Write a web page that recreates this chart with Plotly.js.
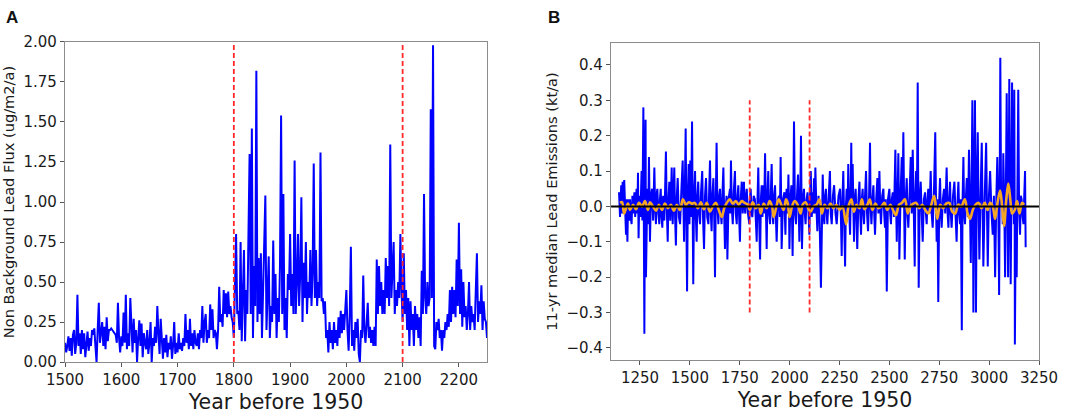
<!DOCTYPE html>
<html>
<head>
<meta charset="utf-8">
<script src="https://cdn.plot.ly/plotly-3.0.1.min.js"></script>
<style>html,body{margin:0;padding:0;background:#fff}#chart{width:1084px;height:419px}</style>
</head>
<body>
<div id="chart"></div>
<script>
// Panel A: non-background lead flux
const fluxYears = [1500,1502,1504,1506,1508,1510,1512,1514,1516,1518,1520,1522,1524,1526,1528,1530,1532,1534,1536,1538,1540,1542,1544,1546,1548,
1550,1552,1554,1556,1558,1560,1562,1564,1566,1568,1570,1572,1574,1576,1578,1580,1582,1584,1586,1588,1590,1592,1594,1596,1598,
1600,1602,1604,1606,1608,1610,1612,1614,1616,1618,1620,1622,1624,1626,1628,1630,1632,1634,1636,1638,1640,1642,1644,1646,1648,
1650,1652,1654,1656,1658,1660,1662,1664,1666,1668,1670,1672,1674,1676,1678,1680,1682,1684,1686,1688,1690,1692,1694,1696,1698,
1700,1702,1704,1706,1708,1710,1712,1714,1716,1718,1720,1722,1724,1726,1728,1730,1732,1734,1736,1738,1740,1742,1744,1746,1748,
1750,1752,1754,1756,1758,1760,1762,1764,1766,1768,1770,1772,1774,1776,1778,1780,1782,1784,1786,1788,1790,1792,1794,1796,1798,
1800,1802,1804,1806,1808,1810,1812,1814,1816,1818,1820,1822,1824,1826,1828,1830,1832,1834,1836,1838,1840,1842,1844,1846,1848,
1850,1852,1854,1856,1858,1860,1862,1864,1866,1868,1870,1872,1874,1876,1878,1880,1882,1884,1886,1888,1890,1892,1894,1896,1898,
1900,1902,1904,1906,1908,1910,1912,1914,1916,1918,1920,1922,1924,1926,1928,1930,1932,1934,1936,1938,1940,1942,1944,1946,1948,
1950,1952,1954,1956,1958,1960,1962,1964,1966,1968,1970,1972,1974,1976,1978,1980,1982,1984,1986,1988,1990,1992,1994,1996,1998,
2000,2002,2004,2006,2008,2010,2012,2014,2016,2018,2020,2022,2024,2026,2028,2030,2032,2034,2036,2038,2040,2042,2044,2046,2048,
2050,2052,2054,2056,2058,2060,2062,2064,2066,2068,2070,2072,2074,2076,2078,2080,2082,2084,2086,2088,2090,2092,2094,2096,2098,
2100,2102,2104,2106,2108,2110,2112,2114,2116,2118,2120,2122,2124,2126,2128,2130,2132,2134,2136,2138,2140,2142,2144,2146,2148,
2150,2152,2154,2156,2158,2160,2162,2164,2166,2168,2170,2172,2174,2176,2178,2180,2182,2184,2186,2188,2190,2192,2194,2196,2198,
2200,2202,2204,2206,2208,2210,2212,2214,2216,2218,2220,2222,2224,2226,2228,2230,2232,2234,2236,2238,2240,2242,2244,2246,2248,
2250];
const fluxValues = [0.12,0.06,0.1,0.16,0.07,0.15,0.04,0.17,0.2,0.05,0.12,0.42,0.1,0.18,0.05,0.2,0.08,0.18,0.03,0.14,0.19,0.07,0.15,0.1,0.2,
0.17,0.21,0.1,0.0,0.2,0.37,0.12,0.2,0.25,0.1,0.22,0.08,0.28,0.13,0.2,0.2,0.21,0.2,0.19,0.18,0.17,0.12,0.37,0.15,0.06,
0.16,0.1,0.31,0.12,0.42,0.08,0.18,0.1,0.4,0.15,0.06,0.27,0.12,0.2,0.0,0.15,0.26,0.1,0.24,0.03,0.18,0.12,0.08,0.2,0.05,
0.12,0.25,0.0,0.15,0.1,0.22,0.12,0.35,0.18,0.05,0.27,0.1,0.02,0.15,0.06,0.17,0.03,0.12,0.08,0.16,0.02,0.1,0.25,0.05,0.12,
0.06,0.18,0.08,0.12,0.07,0.15,0.1,0.3,0.12,0.2,0.08,0.27,0.1,0.18,0.08,0.2,0.12,0.1,0.18,0.08,0.2,0.15,0.35,0.12,0.25,
0.3,0.12,0.2,0.15,0.36,0.2,0.33,0.15,0.2,0.18,0.08,0.2,0.47,0.25,0.3,0.22,0.45,0.3,0.43,0.28,0.44,0.3,0.35,0.28,0.25,
0.15,0.45,0.8,0.3,0.32,0.2,0.75,0.13,0.35,0.7,0.13,0.45,0.3,0.73,1.3,0.3,1.46,0.15,0.6,0.35,1.82,0.25,0.65,0.3,0.68,
0.15,0.5,0.68,1.04,0.2,0.45,0.66,0.15,0.35,0.25,0.76,0.3,0.55,0.15,0.4,0.25,0.6,1.54,0.3,1.05,0.2,0.4,0.15,0.55,0.45,
0.8,0.35,0.55,0.3,1.26,0.3,0.5,0.8,0.35,0.55,1.03,0.25,0.62,0.4,0.75,0.3,0.5,0.4,0.7,0.35,0.55,1.24,0.4,0.7,0.35,
0.5,0.4,1.31,0.38,0.4,0.3,0.38,0.15,0.2,0.06,0.25,0.12,0.2,0.08,0.25,0.12,0.2,0.1,0.28,0.15,0.32,0.18,0.3,0.2,0.35,
0.45,0.2,0.07,0.3,0.72,0.1,0.2,0.07,0.25,0.15,0.27,0.05,0.0,0.2,0.15,0.54,0.2,0.12,0.25,0.37,0.15,0.22,0.12,0.2,0.1,
0.22,0.1,0.64,0.3,0.6,0.35,0.5,0.3,0.45,0.3,0.65,0.4,0.6,0.35,1.36,0.4,0.6,0.75,0.3,0.45,0.35,0.5,0.4,0.8,0.45,
0.25,0.68,0.3,0.45,0.2,0.4,0.1,0.38,0.2,0.3,0.1,0.35,0.2,0.3,0.15,0.28,0.1,0.57,0.3,1.05,0.4,0.3,0.5,0.35,0.4,
1.58,0.4,1.98,0.1,0.08,0.25,0.2,0.27,0.15,0.2,0.07,0.2,0.15,0.25,0.2,0.3,0.22,0.45,0.25,0.47,0.3,0.45,0.28,0.64,0.35,
0.87,0.3,0.58,0.22,0.5,0.28,0.35,0.2,0.3,0.5,0.2,0.35,0.25,0.3,0.2,0.45,0.68,0.25,0.38,0.3,0.48,0.2,0.38,0.27,0.25,
0.15];

// Panel B: 11-yr median lead emissions
const emisYears = [1145,1148,1150,1153,1156,1160,1163,1165,1166,1168,1171,1175,1180,1183,1187,1190,1192,1196,1200,1204,1208,1212,1216,1222,1226,1230,1233,1237,1240,1243,1247,1252,1258,1262,1267,1269,1272,1275,1278,1280,1284,1287,1291,1295,1298,1300,1305,1310,1316,1322,1326,1330,1333,1337,1342,1347,1350,1354,1358,1362,1366,1372,1376,1380,1384,1389,1393,1397,1402,1409,1412,1414,1418,1422,1426,1430,1434,1439,1445,1451,1457,1464,1468,1471,1475,1479,1482,1486,1490,1494,1498,1502,1506,1511,1514,1517,1521,1526,1530,1534,1538,1542,1546,1551,1556,1562,1566,1571,1576,1581,1587,1593,1597,1601,1605,1609,1613,1618,1622,1626,1630,1634,1638,1643,1647,1651,1655,1659,1663,1668,1672,1676,1680,1684,1686,1688,1694,1701,1703,1706,1710,1715,1720,1726,1730,1735,1739,1743,1747,1751,1755,1760,1765,1771,1774,1778,1781,1785,1791,1798,1801,1805,1809,1813,1820,1826,1830,1835,1839,1843,1847,1852,1856,1860,1864,1868,1872,1877,1881,1885,1889,1893,1897,1902,1906,1910,1914,1918,1922,1927,1931,1935,1941,1947,1951,1955,1958,1960,1967,1974,1976,1979,1982,1985,1990,1994,1997,1999,2004,2009,2012,2015,2018,2022,2027,2032,2037,2042,2046,2049,2053,2057,2060,2062,2067,2072,2076,2080,2085,2090,2095,2099,2102,2106,2111,2116,2119,2122,2126,2129,2134,2139,2145,2150,2157,2162,2166,2170,2174,2178,2182,2186,2189,2196,2202,2206,2211,2217,2223,2230,2236,2245,2253,2257,2261,2265,2269,2273,2278,2282,2286,2290,2294,2298,2303,2306,2309,2312,2316,2320,2323,2327,2331,2335,2339,2345,2350,2354,2358,2362,2366,2370,2373,2378,2383,2388,2393,2398,2403,2406,2410,2415,2420,2424,2428,2434,2440,2445,2450,2454,2458,2464,2470,2474,2478,2482,2487,2493,2500,2504,2508,2512,2517,2523,2530,2534,2537,2541,2545,2548,2550,2556,2562,2566,2570,2574,2577,2582,2587,2591,2595,2601,2607,2612,2617,2622,2627,2630,2634,2638,2642,2645,2647,2652,2657,2662,2667,2673,2679,2683,2687,2691,2695,2701,2707,2712,2717,2723,2730,2734,2737,2741,2745,2750,2754,2758,2762,2768,2774,2780,2787,2792,2796,2800,2804,2808,2812,2819,2826,2832,2837,2842,2846,2850,2854,2858,2863,2867,2871,2875,2879,2884,2888,2894,2899,2904,2908,2912,2916,2919,2921,2925,2929,2932,2934,2938,2943,2947,2951,2957,2963,2967,2971,2978,2985,2989,2993,2999,3005,3012,3018,3024,3030,3036,3041,3046,3050,3053,3056,3060,3065,3068,3071,3076,3080,3084,3088,3092,3095,3098,3101,3105,3108,3112,3115,3118,3121,3124,3126,3128,3129,3134,3138,3142,3146,3150,3155,3159,3163,3168,3172,3176,3180,3183];
const emisValues = [0.04,0.0,-0.03,0.02,0.06,-0.02,0.07,0.01,-0.02,0.03,0.075,-0.03,-0.08,0.02,-0.1,0.0,0.02,-0.04,0.02,-0.03,-0.05,0.03,-0.02,0.04,-0.03,0.02,0.05,-0.02,0.095,-0.09,0.03,-0.03,0.1,-0.04,0.28,0.0,-0.36,0.05,0.245,-0.2,0.02,0.05,-0.05,0.14,0.0,-0.1,0.03,0.05,-0.04,0.11,0.0,-0.05,0.03,0.05,-0.02,-0.05,0.02,0.05,-0.03,-0.06,0.03,-0.04,0.05,0.155,0.0,-0.1,0.02,0.07,-0.04,0.11,0.0,-0.05,0.04,0.11,-0.03,-0.11,0.02,0.08,-0.03,-0.05,0.04,0.13,0.0,-0.1,0.05,0.22,0.0,-0.24,0.03,0.12,-0.05,0.13,-0.03,0.24,0.0,-0.22,0.02,0.1,-0.03,-0.1,0.03,0.07,-0.02,-0.05,0.04,0.1,-0.03,-0.12,0.03,0.08,-0.03,-0.05,0.05,0.13,-0.02,-0.07,0.03,0.08,-0.03,-0.2,0.02,0.18,0.0,-0.05,0.03,0.05,-0.02,-0.05,0.03,0.11,-0.02,-0.12,0.0,0.03,-0.03,-0.15,0.02,0.05,-0.02,0.13,0.0,-0.05,0.04,0.1,-0.02,-0.05,0.03,0.06,-0.03,-0.1,0.02,0.07,-0.02,0.07,0.0,-0.02,0.03,0.05,-0.02,-0.05,0.02,0.05,-0.02,-0.03,0.03,0.02,-0.03,-0.1,0.02,0.11,-0.03,-0.15,0.02,0.06,-0.03,0.06,-0.02,0.15,0.0,-0.12,0.03,0.1,-0.02,-0.05,0.04,0.12,-0.02,-0.05,0.03,0.06,-0.03,-0.1,0.02,0.03,-0.03,0.14,0.0,-0.12,0.02,0.04,-0.02,-0.08,0.02,0.05,-0.02,0.09,0.0,-0.12,0.02,0.06,-0.03,-0.14,0.0,0.24,-0.02,-0.05,0.03,0.09,-0.02,-0.1,0.02,0.2,0.0,-0.12,0.02,0.05,-0.02,-0.05,0.02,0.04,-0.02,-0.08,0.02,0.1,-0.03,0.04,-0.02,0.08,-0.02,0.11,0.0,-0.07,0.03,-0.03,-0.23,0.02,0.09,-0.02,-0.05,0.03,0.05,-0.02,-0.05,0.03,0.1,-0.02,-0.05,0.03,0.06,-0.02,-0.05,0.03,0.05,-0.03,-0.14,0.02,0.1,-0.03,-0.17,0.0,0.05,-0.03,0.12,0.0,-0.08,0.02,0.18,0.0,0.12,-0.02,-0.1,0.02,0.05,-0.03,-0.12,0.02,0.07,-0.02,-0.08,0.02,0.05,-0.02,-0.05,0.03,0.1,-0.02,-0.07,0.02,0.18,0.0,-0.05,0.02,0.06,-0.02,-0.08,0.02,0.08,-0.02,0.1,0.0,-0.05,0.03,0.05,-0.02,-0.06,0.02,-0.24,0.02,0.05,-0.02,-0.05,0.02,0.04,-0.03,0.16,0.0,-0.1,0.02,0.15,0.0,-0.15,0.03,0.14,0.0,0.21,0.0,-0.15,0.02,0.08,-0.02,-0.06,0.03,0.14,-0.02,0.16,0.0,-0.17,0.02,0.1,0.0,0.35,0.0,-0.23,0.02,0.07,-0.02,-0.1,0.02,0.04,-0.02,-0.05,0.02,0.05,-0.02,0.1,-0.02,-0.06,0.03,0.21,0.0,-0.1,0.02,-0.27,0.02,0.08,-0.02,-0.06,0.02,0.05,-0.02,0.11,-0.02,-0.06,0.02,0.07,-0.02,-0.06,0.03,0.07,-0.03,-0.1,0.02,0.07,-0.02,-0.05,0.02,-0.35,0.02,0.14,-0.02,-0.05,0.03,0.08,-0.03,0.16,0.0,-0.16,0.05,0.3,0.0,-0.3,0.05,0.3,0.0,-0.3,0.05,0.21,0.0,-0.15,0.03,0.18,0.0,-0.17,0.03,0.18,0.0,-0.17,0.03,0.1,-0.02,-0.08,0.03,-0.2,0.02,0.14,0.0,-0.25,0.05,0.42,0.0,0.05,-0.05,0.15,0.0,-0.2,0.05,0.32,0.0,-0.2,0.05,0.36,0.0,-0.22,0.05,0.35,0.0,0.12,-0.05,0.33,0.0,-0.39,0.0,-0.2,0.05,0.33,0.0,-0.08,0.03,0.02,-0.03,-0.05,0.03,0.1,-0.115];

const smoothYears = [1150,1160,1170,1180,1190,1200,1215,1230,1245,1260,1275,1290,1300,1315,1330,1345,1360,1375,1390,1405,1420,1435,1450,1465,1480,1495,1510,1525,1540,1555,1570,1585,1600,1615,1630,1645,1660,1672,1685,1700,1715,1730,1745,1760,1775,1790,1800,1815,1830,1845,1855,1870,1885,1900,1912,1920,1932,1945,1958,1970,1982,1990,2000,2012,2025,2040,2055,2065,2080,2095,2105,2120,2135,2150,2162,2175,2190,2205,2220,2235,2250,2265,2283,2295,2310,2322,2335,2350,2362,2375,2390,2402,2415,2430,2445,2460,2475,2490,2505,2518,2533,2548,2562,2578,2592,2605,2620,2635,2650,2665,2680,2695,2710,2725,2740,2755,2770,2785,2800,2815,2830,2845,2860,2878,2892,2904,2918,2932,2948,2962,2978,2992,3005,3018,3030,3042,3055,3065,3075,3086,3096,3106,3115,3128,3140,3152,3165,3175];
const smoothValues = [0.01,0.012,-0.02,-0.005,0.008,-0.01,0.005,-0.008,0.01,0.0,0.015,-0.01,0.012,0.0,-0.012,0.005,-0.01,0.008,-0.005,0.005,-0.012,0.005,-0.01,0.02,0.005,0.012,0.008,0.01,-0.005,0.012,-0.008,0.01,-0.015,0.0,0.01,-0.01,-0.03,-0.005,0.01,0.02,0.008,0.015,0.005,0.015,0.01,0.005,-0.01,0.012,-0.005,0.005,-0.02,0.008,-0.005,0.015,0.0,-0.03,-0.005,0.02,0.005,-0.01,0.02,0.01,-0.03,0.0,0.015,0.005,-0.02,0.005,0.012,-0.008,-0.015,0.0,0.005,0.02,-0.02,0.005,-0.005,0.008,-0.005,0.005,-0.01,0.0,-0.05,0.0,0.02,-0.015,0.005,-0.005,0.02,-0.008,0.005,0.02,-0.01,0.008,-0.005,0.0,0.01,-0.01,0.005,-0.01,-0.025,0.005,0.01,0.02,-0.02,0.0,0.008,0.01,-0.005,0.005,-0.01,-0.02,0.005,0.03,-0.035,0.005,-0.005,0.008,0.01,-0.015,-0.02,0.005,0.0,0.02,-0.02,-0.035,-0.01,0.005,0.01,-0.005,0.01,-0.01,0.01,0.0,-0.035,0.01,0.045,0.0,-0.055,0.02,0.065,0.02,-0.02,-0.01,0.015,-0.02,0.01,0.005];

const markerYears = [1800, 2100];
const xTicksA = [1500,1600,1700,1800,1900,2000,2100,2200];
const yTicksA = [0,0.25,0.5,0.75,1.0,1.25,1.5,1.75,2.0];
const xTicksB = [1250,1500,1750,2000,2250,2500,2750,3000,3250];
const yTicksB = [-0.4,-0.3,-0.2,-0.1,0,0.1,0.2,0.3,0.4];

const FONT = 'DejaVu Sans, sans-serif';
const TXT = '#1a1a1a';

const traces = [
  {x: fluxYears, y: fluxValues, xaxis:'x', yaxis:'y', type:'scatter', mode:'lines',
   line:{color:'#0000ff', width:2}, hoverinfo:'skip', showlegend:false},
  {x: emisYears, y: emisValues, xaxis:'x2', yaxis:'y2', type:'scatter', mode:'lines',
   line:{color:'#0000ff', width:2}, hoverinfo:'skip', showlegend:false},
  {x: smoothYears, y: smoothValues, xaxis:'x2', yaxis:'y2', type:'scatter', mode:'lines',
   line:{color:'#f5a623', width:2.6, shape:'spline'}, hoverinfo:'skip', showlegend:false}
];

const shapes = [];
markerYears.forEach(yr => {
  shapes.push({type:'line', xref:'x', yref:'y domain', x0:yr, x1:yr, y0:0, y1:1,
    line:{color:'#ff2a2a', width:1.8, dash:'5px,3px'}, layer:'above'});
  shapes.push({type:'line', xref:'x2', yref:'y2', x0:yr, x1:yr, y0:-0.3, y1:0.3,
    line:{color:'#ff2a2a', width:1.8, dash:'5px,3px'}, layer:'above'});
});
shapes.push({type:'line', xref:'x2 domain', yref:'y2', x0:0, x1:1, y0:0, y1:0,
  line:{color:'#000000', width:2}, layer:'above'});

const axisCommon = {
  showgrid:false, zeroline:false, showline:true, mirror:true,
  linecolor:'#8c8c8c', linewidth:1.2, ticks:'outside', ticklen:4, tickwidth:1,
  tickcolor:'#555', tickfont:{family:FONT, size:15, color:TXT}, automargin:false
};

const notes = [
  {text:'<b>A</b>', xref:'paper', yref:'paper', x:0.004, y:0.985, xanchor:'left', yanchor:'top',
   showarrow:false, font:{family:'Liberation Sans, Arial, sans-serif', size:17, color:'#111'}},
  {text:'<b>B</b>', xref:'paper', yref:'paper', x:0.5035, y:0.985, xanchor:'left', yanchor:'top',
   showarrow:false, font:{family:'Liberation Sans, Arial, sans-serif', size:17, color:'#111'}}
];
if (fluxYears.length !== fluxValues.length || emisYears.length !== emisValues.length || smoothYears.length !== smoothValues.length) {
  notes.push({text:'LEN ' + fluxYears.length + '/' + fluxValues.length + ' ' + emisYears.length + '/' + emisValues.length + ' ' + smoothYears.length + '/' + smoothValues.length,
    xref:'paper', yref:'paper', x:0.5, y:0.99, showarrow:false, font:{size:12, color:'red'}});
}

const layout = {
  width:1084, height:419,
  margin:{l:0, r:0, t:0, b:0},
  paper_bgcolor:'#ffffff', plot_bgcolor:'#ffffff',
  font:{family:FONT, color:TXT},
  xaxis: Object.assign({}, axisCommon, {
    domain:[0.06, 0.4493], range:[1500,2250], tickvals:xTicksA, anchor:'y',
    title:{text:'Year before 1950', font:{family:FONT, size:20.5, color:TXT}, standoff:6}
  }),
  yaxis: Object.assign({}, axisCommon, {
    domain:[0.136, 0.8998], range:[0,2], tickvals:yTicksA, tickformat:'.2f', anchor:'x',
    title:{text:'Non Background Lead Flux (ug/m2/a)', font:{family:FONT, size:14.6, color:TXT}, standoff:5}
  }),
  xaxis2: Object.assign({}, axisCommon, {
    domain:[0.5637, 0.9585], range:[1105,3250], tickvals:xTicksB, anchor:'y2',
    title:{text:'Year before 1950', font:{family:FONT, size:20.5, color:TXT}, standoff:6}
  }),
  yaxis2: Object.assign({}, axisCommon, {
    domain:[0.1408, 0.8974], range:[-0.434,0.462], tickvals:yTicksB, tickformat:'.1f', anchor:'x2',
    title:{text:'11-yr median Lead Emissions (kt/a)', font:{family:FONT, size:14.6, color:TXT}, standoff:5}
  }),
  shapes: shapes,
  annotations: notes
};

Plotly.newPlot('chart', traces, layout, {staticPlot:true, displayModeBar:false});
</script>
</body>
</html>
